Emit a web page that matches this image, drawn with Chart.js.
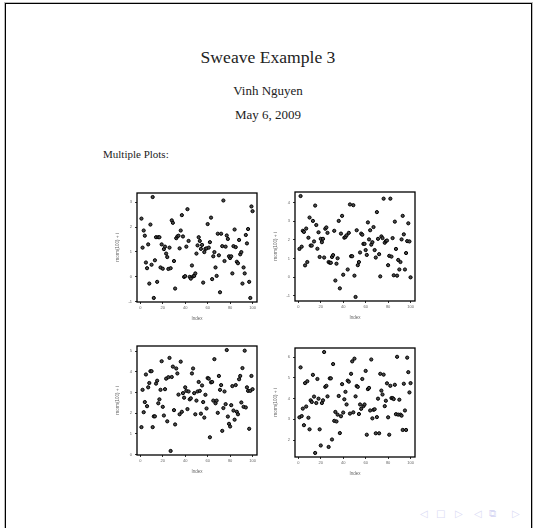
<!DOCTYPE html>
<html>
<head>
<meta charset="utf-8">
<script src="https://cdn.jsdelivr.net/npm/chart.js@4.4.0/dist/chart.umd.min.js"></script>
<style>
  html, body { margin: 0; padding: 0; background: #fff; }
  body { width: 533px; height: 528px; position: relative; overflow: hidden; }
  #page { position: absolute; left: 5px; top: 3px; width: 525px; height: 600px;
          border: 1px solid #000; box-shadow: 0 0 0 1px #bbb; }
  .txt { position: absolute; font-family: "Liberation Serif", serif; line-height: 1; color: #222; white-space: nowrap; }
  .nav { position: absolute; top: 509px; font-family: "DejaVu Sans", sans-serif; font-size: 10px; color: #dadaf4; line-height: 1; }
  canvas { position: absolute; }
</style>
</head>
<body>
<div id="page"></div>
<div class="txt" style="left:0;width:536px;text-align:center;top:49px;font-size:17.6px;">Sweave Example 3</div>
<div class="txt" style="left:0;width:536px;text-align:center;top:84px;font-size:13px;">Vinh Nguyen</div>
<div class="txt" style="left:0;width:536px;text-align:center;top:108px;font-size:13px;">May 6, 2009</div>
<div class="txt" style="left:103px;top:149px;font-size:11px;">Multiple Plots:</div>

<span class="nav" style="left:420px">◁</span>
<span class="nav" style="left:436px">□</span>
<span class="nav" style="left:455px">▷</span>
<span class="nav" style="left:474px">◁</span>
<span class="nav" style="left:489px">⧉</span>
<span class="nav" style="left:512px">▷</span>

<canvas id="p1"></canvas>
<canvas id="p2"></canvas>
<canvas id="p3"></canvas>
<canvas id="p4"></canvas>

<script>
// tick labels
const xTicks = [0, 20, 40, 60, 80, 100];
const yTicks1 = [-1, 0, 1, 2, 3];
const yTicks2 = [-1, 0, 1, 2, 3, 4];
const yTicks3 = [0, 1, 2, 3, 4, 5];
const yTicks4 = [2, 3, 4, 5, 6];

// rnorm(100) + i
const series1 = [2.34, 1.17, 1.86, 1.65, 0.57, 0.34, 1.30, -0.28, 2.10, 0.48,
  3.21, -0.86, 0.66, 1.59, -0.21, 1.59, 1.59, 0.37, 1.30, 0.32,
  1.11, 1.21, 0.93, 0.79, 0.31, 1.17, 0.34, 2.27, 2.17, 0.63,
  -0.48, 1.55, 1.62, 1.65, 1.14, 1.86, 2.48, 1.62, -0.01, 0.02,
  1.21, 2.72, 1.44, -0.01, -0.08, 0.45, 0.01, 0.03, 0.13, 0.93,
  1.26, 1.59, 1.44, 1.12, 1.28, -0.24, 0.99, 1.12, 1.14, 2.12,
  1.17, 1.39, 2.38, -0.10, 0.82, 0.99, 0.37, 0.03, 1.73, 0.86,
  -0.63, 1.73, 1.23, 3.07, 0.63, 1.21, 1.66, 1.52, 0.82, 0.75,
  0.82, 0.13, 1.23, 1.90, 1.19, 0.60, 0.54, 1.48, 0.90, 0.99,
  -0.28, 0.37, 0.13, 1.68, 1.34, 1.92, -0.21, -0.86, 2.83, 2.64];

const series2 = [1.51, 4.34, 1.63, 2.48, 2.42, 0.63, 2.60, 0.81, 2.11, 3.19,
  1.69, 1.69, 3.01, 1.91, 3.83, 2.79, 1.52, 2.40, 1.08, 2.05,
  1.87, 2.05, 1.05, 2.59, 2.66, 2.37, 0.81, 0.77, 0.77, 1.08,
  1.18, 2.48, -0.18, 0.72, 1.01, 3.01, -0.60, 2.33, 3.28, 0.13,
  2.11, 2.15, 2.24, 0.41, 2.37, 3.89, 1.12, 1.12, 3.85, 0.08,
  -1.06, 2.51, 0.64, 0.81, 1.32, 2.33, 2.27, 1.78, 1.78, 1.45,
  1.19, 2.93, 2.02, 2.51, 1.74, 1.87, 2.68, 1.45, 1.05, 3.48,
  2.05, 1.23, 0.04, 2.18, 2.09, 4.20, 1.84, 1.93, 1.96, 0.64,
  1.14, 4.20, 1.10, 2.09, 0.10, 2.97, 1.51, 0.08, 0.92, 0.41,
  0.81, 2.02, 3.28, 2.29, 0.41, 1.29, 1.93, 2.88, 1.91, -0.01];

const series3 = [1.33, 3.13, 2.05, 2.54, 3.87, 2.34, 3.25, 3.46, 4.03, 4.03,
  1.33, 1.85, 1.85, 3.43, 3.57, 2.48, 2.67, 3.13, 4.51, 2.31,
  1.89, 3.16, 3.67, 1.61, 3.74, 4.67, 0.18, 3.75, 4.25, 2.15,
  1.46, 4.16, 3.92, 2.90, 1.95, 4.49, 2.07, 2.97, 2.75, 3.25,
  3.08, 2.20, 3.05, 2.67, 2.72, 3.92, 4.16, 2.97, 1.95, 2.61,
  3.05, 3.51, 3.08, 1.98, 3.34, 2.54, 1.79, 2.89, 2.23, 3.70,
  3.67, 0.84, 3.49, 3.51, 2.61, 4.61, 2.48, 2.61, 2.02, 3.80,
  3.13, 3.36, 1.15, 2.25, 3.05, 2.44, 5.05, 1.84, 1.49, 1.36,
  2.39, 3.31, 2.13, 1.69, 3.36, 2.07, 1.95, 3.64, 3.80, 2.52,
  4.18, 2.31, 5.02, 2.28, 3.25, 3.08, 1.25, 3.08, 3.80, 3.16];

const series4 = [3.10, 5.51, 3.16, 3.52, 2.72, 4.75, 3.62, 4.84, 3.08, 2.52,
  3.92, 3.84, 5.15, 4.10, 1.38, 3.79, 4.95, 4.00, 2.52, 1.74,
  3.79, 3.92, 6.25, 4.57, 4.62, 4.11, 1.67, 4.98, 4.98, 2.03,
  5.67, 2.93, 3.36, 2.90, 3.23, 4.13, 2.34, 3.15, 4.70, 3.33,
  3.97, 4.33, 3.72, 4.87, 4.82, 3.28, 5.20, 5.80, 3.34, 5.93,
  4.11, 4.61, 4.57, 3.26, 3.72, 3.51, 4.95, 3.64, 3.72, 5.34,
  2.26, 4.46, 4.52, 3.43, 5.89, 3.05, 3.46, 3.49, 2.33, 3.11,
  4.00, 2.33, 5.20, 4.39, 4.20, 5.16, 3.64, 3.90, 4.74, 3.10,
  2.26, 4.62, 4.03, 4.03, 3.98, 4.67, 3.25, 6.02, 3.23, 3.95,
  3.23, 3.18, 2.49, 4.72, 3.43, 2.49, 5.98, 5.28, 4.30, 4.75];

const yLabel = 'rnorm(100) + i';
const xLabel = 'Index';

// draws the full box() around the plot region
const boxPlugin = {
  id: 'rbox',
  afterDraw(chart) {
    const a = chart.chartArea, ctx = chart.ctx;
    ctx.save();
    ctx.strokeStyle = '#000';
    ctx.lineWidth = 1.3;
    ctx.strokeRect(a.left, a.top, a.right - a.left, a.bottom - a.top);
    ctx.restore();
  }
};

const AXW = 22, AXH = 19, PAD = 6;

function makePanel(id, values, yTicks, left, top, w, h) {
  const cv = document.getElementById(id);
  cv.width = w + AXW + PAD;
  cv.height = h + AXH + PAD;
  cv.style.left = (left - AXW) + 'px';
  cv.style.top = (top - PAD) + 'px';

  const lo = Math.min(...values), hi = Math.max(...values), r = hi - lo;
  const tickFont = { family: 'Liberation Sans', size: 4 };

  new Chart(cv, {
    type: 'scatter',
    data: {
      datasets: [{
        data: values.map((v, i) => ({ x: i + 1, y: v })),
        pointRadius: 1.6,
        pointBorderWidth: 1,
        pointBorderColor: '#000',
        pointBackgroundColor: '#4a4a4a'
      }]
    },
    options: {
      responsive: false,
      animation: false,
      layout: { padding: { top: PAD, right: PAD, left: 0, bottom: 0 } },
      plugins: { legend: { display: false }, tooltip: { enabled: false } },
      scales: {
        x: {
          type: 'linear', min: -2.96, max: 103.96,
          afterBuildTicks: s => { s.ticks = xTicks.map(v => ({ value: v })); },
          afterFit: s => { s.height = AXH; },
          border: { display: false },
          grid: { drawOnChartArea: false, tickLength: 2, color: '#000', lineWidth: 0.8 },
          ticks: { font: tickFont, color: '#666', padding: 1, autoSkip: false, maxRotation: 0 },
          title: { display: true, text: xLabel, font: { family: 'Liberation Sans', size: 4.5 }, color: '#666', padding: 0 }
        },
        y: {
          type: 'linear', min: lo - 0.04 * r, max: hi + 0.04 * r,
          afterBuildTicks: s => { s.ticks = yTicks.map(v => ({ value: v })); },
          afterFit: s => { s.width = AXW; },
          border: { display: false },
          grid: { drawOnChartArea: false, tickLength: 2, color: '#000', lineWidth: 0.8 },
          ticks: { font: tickFont, color: '#666', padding: 3, autoSkip: false },
          title: { display: true, text: yLabel, font: { family: 'Liberation Sans', size: 4.5 }, color: '#666', padding: 0 }
        }
      }
    },
    plugins: [boxPlugin]
  });
}

makePanel('p1', series1, yTicks1, 137, 193, 120, 109);
makePanel('p2', series2, yTicks2, 295, 192, 120, 109);
makePanel('p3', series3, yTicks3, 137, 346, 120, 109);
makePanel('p4', series4, yTicks4, 295, 348, 120, 109);
</script>
</body>
</html>
